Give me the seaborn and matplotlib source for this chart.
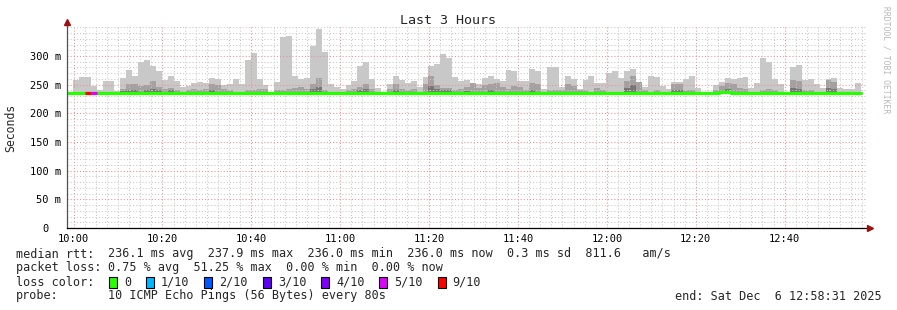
import numpy as np
import pandas as pd
import matplotlib
matplotlib.use("Agg")
import matplotlib.pyplot as plt
from matplotlib.patches import Rectangle
from matplotlib.lines import Line2D
from matplotlib.ticker import MultipleLocator, FixedLocator
import seaborn as sns

# ---------------- data ----------------
step_seconds = 80
start_min = -1.4833          # 09:58:31 expressed in minutes after 10:00
span_min = 180
nan = float("nan")

median_ms = [
    236.0, 236.0, 236.0, 236.0, 236.0, 236.0, 236.0, 236.0, 236.0, 236.0,
    236.0, 236.0, 236.0, 236.0, 236.0, 236.0, 236.0, 236.0, 236.0, 236.0,
    236.0, 236.0, 236.0, 236.0, 236.0, 236.0, 236.0, 236.0, 236.0, 236.0,
    236.0, 236.0, 236.0, 236.0, 236.0, 236.0, 236.0, 236.0, 236.0, 236.0,
    236.0, 236.0, 236.0, 236.0, 236.0, 236.0, 236.0, 236.0, 236.0, 236.0,
    236.0, 236.0, 236.0, 236.0, 236.0, 236.0, 236.0, 236.0, 236.0, 236.0,
    236.0, 236.0, 236.0, 236.0, 236.0, 236.0, 236.0, 236.0, 236.0, 236.0,
    236.0, 236.0, 236.0, 236.0, 236.0, 236.0, 236.0, 236.0, 236.0, 236.0,
    236.0, 236.0, 236.0, 236.0, 236.0, 236.0, 236.0, 236.0, 236.0, 236.0,
    236.0, 236.0, 236.0, 236.0, 236.0, 236.0, 236.0, 236.0, 236.0, 236.0,
    236.0, 236.0, 236.0, 236.0, 236.0, 236.0, 236.0, 236.0, 236.0, 236.0,
    237.6, 237.9, 236.0, 236.0, 236.0, 236.0, 236.0, 236.0, 236.0, 236.0,
    236.0, 236.0, 236.0, 236.0, 236.0, 236.0, 236.0, 236.0, 236.0, 236.0,
    236.0, 236.0, 236.0, 236.0, nan,
]

max_ms = [
    236.5, 258, 263, 263, 248, 241, 256, 256, 239, 261,
    276, 266, 290, 293, 283, 273, 258, 265, 256, 246,
    248, 253, 254.5, 253, 261, 259.5, 249.5, 251, 259.5, 251,
    293, 305, 259.5, 249, 237, 254, 333, 335, 266, 259.5,
    261, 317, 347, 307, 251, 246, 243, 249, 256, 283,
    290, 259.5, 244, 236.5, 251, 266, 258, 253, 256, 246,
    263, 283, 286.5, 303, 296.5, 263, 256, 258, 253, 251,
    261, 266, 259.5, 256, 276, 273, 256, 256, 278, 274.5,
    243, 280, 280, 246, 264.5, 259.5, 243, 258, 264.5, 253,
    253, 271, 273, 261, 274.5, 278, 254.5, 246, 264.5, 263,
    248, 243, 254.5, 254.5, 259.5, 264.5, 244, 237, 237, 249,
    254.5, 261, 259.5, 261, 263, 244, 253, 296.5, 290, 259.5,
    251, 237, 280, 285, 258, 259.5, 251, 244, 259.5, 261,
    244, 243, 243, 253, nan,
]

mid_ms = [
    236, 236, 236, 236, 236, 236, 236, 236, 236, 242,
    251, 252, 248, 249, 256, 246, 243, 244, 240, 238,
    240, 242, 241, 243, 252, 249, 242, 240, 238, 238,
    240, 240, 243, 243, 236, 240, 241, 242, 245, 246,
    242, 252, 261, 240, 238, 238, 238, 240, 243, 246,
    252, 243, 238, 236, 243, 251, 243, 241, 242, 238,
    251, 266, 250, 245, 245, 240, 242, 246, 253, 244,
    250, 252, 253, 246, 243, 248, 246, 240, 253, 251,
    238, 240, 240, 240, 251, 248, 241, 241, 238, 244,
    240, 238, 238, 238, 256, 266, 254, 240, 238, 240,
    238, 236, 251, 251, 241, 241, 238, 236, 236, 240,
    247, 253, 251, 245, 243, 238, 238, 240, 242, 240,
    236, 236, 258, 256, 240, 240, 238, 238, 258, 254,
    238, 236, 236, 238, nan,
]

dark_ms = [
    236, 236, 236, 236, 236, 236, 236, 236, 236, 239,
    240, 241, 236, 240, 242, 240, 236, 240, 236, 236,
    236, 236, 236, 236, 241, 236, 236, 236, 236, 236,
    236, 236, 236, 236, 236, 236, 236, 236, 236, 236,
    236, 243, 246, 236, 236, 236, 236, 236, 236, 240,
    243, 236, 236, 236, 236, 241, 236, 236, 236, 236,
    236, 247, 242, 241, 240, 236, 236, 239, 236, 236,
    236, 240, 236, 236, 236, 236, 236, 236, 240, 236,
    236, 236, 236, 236, 236, 236, 236, 236, 236, 236,
    236, 236, 236, 236, 244, 250, 236, 236, 236, 236,
    236, 236, 240, 240, 236, 236, 236, 236, 236, 236,
    236, 243, 236, 236, 236, 236, 236, 236, 236, 236,
    236, 236, 244, 243, 236, 236, 236, 236, 244, 243,
    236, 236, 236, 236, nan,
]

loss_tenths = [
    0, 0, 0, 9, 5, 0, 0, 0, 0, 0,
    0, 0, 0, 0, 0, 0, 0, 0, 0, 0,
    0, 0, 0, 0, 0, 0, 0, 0, 0, 0,
    0, 0, 0, 0, 0, 0, 0, 0, 0, 0,
    0, 0, 0, 0, 0, 0, 0, 0, 0, 0,
    0, 0, 0, 0, 0, 0, 0, 0, 0, 0,
    0, 0, 0, 0, 0, 0, 0, 0, 0, 0,
    0, 0, 0, 0, 0, 0, 0, 0, 0, 0,
    0, 0, 0, 0, 0, 0, 0, 0, 0, 0,
    0, 0, 0, 0, 0, 0, 0, 0, 0, 0,
    0, 0, 0, 0, 0, 0, 0, 0, 0, 0,
    0, 0, 0, 0, 0, 0, 0, 0, 0, 0,
    0, 0, 0, 0, 0, 0, 0, 0, 0, 0,
    0, 0, 0, 0, nan,
]

x_tick_labels = ["10:00", "10:20", "10:40", "11:00", "11:20", "11:40", "12:00", "12:20", "12:40"]
x_tick_step_min = 20
y_tick_values = [0, 50, 100, 150, 200, 250, 300]
y_tick_labels = ["0  ", "50 m", "100 m", "150 m", "200 m", "250 m", "300 m"]

loss_labels = ["0", "1/10", "2/10", "3/10", "4/10", "5/10", "9/10"]
loss_levels = [0, 1, 2, 3, 4, 5, 9]
loss_colors = ["#26ff00", "#00b8ff", "#0059ff", "#5e00ff", "#7e00ff", "#dd00ff", "#ff0000"]

title = "Last 3 Hours"
y_label = "Seconds"
side_text = "RRDTOOL / TOBI OETIKER"
stat_rows = [
    ("median rtt:", "236.1 ms avg  237.9 ms max  236.0 ms min  236.0 ms now  0.3 ms sd  811.6   am/s"),
    ("packet loss:", "0.75 % avg  51.25 % max  0.00 % min  0.00 % now"),
]
loss_row_label = "loss color:"
probe_label = "probe:"
probe_text = "10 ICMP Echo Pings (56 Bytes) every 80s"
end_text = "end: Sat Dec  6 12:58:31 2025"

# ---------------- drawing ----------------
sns.set_theme(style="white")
MONO = ["DejaVu Sans Mono"]
plt.rcParams["font.family"] = MONO

W, H = 897, 310
fig = plt.figure(figsize=(W / 100, H / 100), dpi=100, facecolor="white")


def fx(px):
    return px / W


def fy(py):
    return 1 - py / H


ax_top_px, ax_bot_px, ax_left_px, ax_right_px = 26, 228, 67, 867
ax = fig.add_axes([fx(ax_left_px), fy(ax_bot_px),
                   fx(ax_right_px) - fx(ax_left_px), fy(ax_top_px) - fy(ax_bot_px)])
ax.set_facecolor("white")

n = len(max_ms)
step = step_seconds / 60
edges = start_min + step * np.arange(n + 1)
left = edges[:-1]
med = np.asarray(median_ms, float)

for layer, col, z in [(max_ms, "#c8c8c8", 1.0), (mid_ms, "#a2a2a2", 1.1), (dark_ms, "#767676", 1.2)]:
    top = np.asarray(layer, float)
    h = np.clip(top - med, 0, None)
    ax.bar(left, h, bottom=med, width=step, align="edge", color=col,
           linewidth=0, antialiased=False, zorder=z)

# median line (loss 0 colour) via seaborn
valid = ~np.isnan(med)
mx = np.append(left[valid], edges[1:][valid][-1])
my = np.append(med[valid], med[valid][-1])
sns.lineplot(x=mx, y=my, drawstyle="steps-post", color=loss_colors[0], lw=2.3,
             ax=ax, zorder=6, estimator=None, sort=False)

# loss coloured segments
for i in range(n):
    lt = loss_tenths[i]
    if np.isnan(lt) or lt <= 0:
        continue
    idx = max(k for k, lv in enumerate(loss_levels) if lv <= lt)
    ax.hlines(med[i], edges[i], edges[i + 1], color=loss_colors[idx], lw=2.3, zorder=7)

ax.set_xlim(start_min, start_min + span_min)
ax.set_ylim(0, (ax_bot_px - ax_top_px) / 0.5733)

ax.xaxis.set_major_locator(FixedLocator(x_tick_step_min * np.arange(len(x_tick_labels))))
ax.set_xticklabels(x_tick_labels)
ax.xaxis.set_minor_locator(MultipleLocator(2.5))
ax.yaxis.set_major_locator(FixedLocator(y_tick_values))
ax.set_yticklabels(y_tick_labels)
ax.yaxis.set_minor_locator(MultipleLocator(10))

ax.set_axisbelow(False)
ax.grid(which="minor", color="#c8c8c8", linestyle=(0, (1, 2)), lw=0.75)
ax.grid(which="major", color="#ee8e8e", linestyle=(0, (1, 2)), lw=0.75)

for s in ["top", "right"]:
    ax.spines[s].set_visible(False)
ax.spines["left"].set_color("#505050")
ax.spines["bottom"].set_color("#000000")
ax.spines["left"].set_linewidth(0.9)
ax.spines["bottom"].set_linewidth(0.9)
ax.spines["left"].set_zorder(8)
ax.spines["bottom"].set_zorder(8)

ax.tick_params(axis="both", which="both", direction="inout", colors="#333333",
               labelcolor="black", labelsize=7.5, width=0.7)
ax.tick_params(which="major", length=4, pad=2)
ax.tick_params(which="minor", length=2.5)
ax.set_xlabel("")
ax.set_ylabel("")

# axis extensions and arrow heads
ax.add_line(Line2D([0, 0], [1, 1 + 4 / 202], transform=ax.transAxes, color="#505050",
                   lw=0.9, clip_on=False, zorder=8))
ax.plot([0], [1 + 4 / 202], marker="^", ms=4.5, color="#9b1111", transform=ax.transAxes,
        clip_on=False, zorder=9)
ax.add_line(Line2D([1, 1 + 3 / 800], [0, 0], transform=ax.transAxes, color="#000000",
                   lw=0.9, clip_on=False, zorder=8))
ax.plot([1 + 3 / 800], [0], marker=">", ms=4.5, color="#9b1111", transform=ax.transAxes,
        clip_on=False, zorder=9)

# texts
fig.text(fx(448), fy(20), title, ha="center", va="center", fontsize=9.6, family=MONO)
fig.text(fx(11), fy(128), y_label, ha="center", va="center", rotation=90, fontsize=8.3, family=MONO)
fig.text(fx(886), fy(60), side_text, ha="center", va="center", rotation=270, fontsize=5.8,
         color="#b8b8b8", family=MONO)

row_y = [254, 268, 282, 296]
LEG_FS = 8.5
label_x, value_x = 16, 108
for (lab, val), yy in zip(stat_rows, row_y[:2]):
    fig.text(fx(label_x), fy(yy), lab, ha="left", va="center", fontsize=LEG_FS, family=MONO)
    fig.text(fx(value_x), fy(yy), val, ha="left", va="center", fontsize=LEG_FS, family=MONO)

fig.text(fx(label_x), fy(row_y[2]), loss_row_label, ha="left", va="center", fontsize=LEG_FS, family=MONO)
bx = 109.0
char_w = 7.08
for lab, col in zip(loss_labels, loss_colors):
    fig.add_artist(Rectangle((fx(bx), fy(row_y[2] + 5.5)), fx(8), 11 / H, transform=fig.transFigure,
                             facecolor=col, edgecolor="black", lw=0.8))
    fig.text(fx(bx + 15), fy(row_y[2]), lab, ha="left", va="center", fontsize=LEG_FS, family=MONO)
    bx += 15 + len(lab) * char_w + 15

fig.text(fx(label_x), fy(row_y[3]), probe_label, ha="left", va="center", fontsize=LEG_FS, family=MONO)
fig.text(fx(value_x), fy(row_y[3]), probe_text, ha="left", va="center", fontsize=LEG_FS, family=MONO)
fig.text(fx(882), fy(row_y[3]), end_text, ha="right", va="center", fontsize=LEG_FS, family=MONO)

fig.savefig("out.png", dpi=100, facecolor="white")
